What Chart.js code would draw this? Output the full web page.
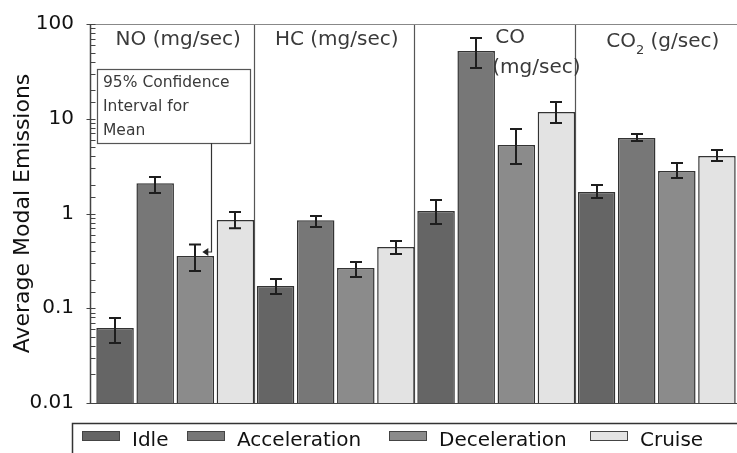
<!DOCTYPE html>
<html>
<head>
<meta charset="utf-8">
<script src="https://cdn.jsdelivr.net/npm/chart.js@4.4.0/dist/chart.umd.min.js"></script>
<style>
  html, body { margin: 0; padding: 0; background: #fff; overflow: hidden; }
</style>
</head>
<body>
<canvas id="emissions" width="737" height="453"></canvas>
<script>
// pollutant groups along the x axis
const pollutants = ["NO", "HC", "CO", "CO2"];
// driving modes (one dataset each)
const modes = ["Idle", "Acceleration", "Deceleration", "Cruise"];
const modeColors = ["#656565", "#777777", "#8b8b8b", "#e3e3e3"];
const yTickLabels = ["0.01", "0.1", "1", "10", "100"];

// average modal emissions per pollutant
const idleMean   = [0.062, 0.172, 1.06, 1.69];
const accelMean  = [2.09, 0.85, 52, 6.26];
const decelMean  = [0.356, 0.266, 5.28, 2.81];
const cruiseMean = [0.853, 0.443, 11.8, 4.05];

// 95% confidence interval bounds
const idleLow   = [0.043, 0.141, 0.775, 1.46];
const idleHigh  = [0.079, 0.204, 1.39, 2.0];
const accelLow  = [1.65, 0.72, 34.3, 5.82];
const accelHigh = [2.43, 0.94, 71, 6.9];
const decelLow  = [0.247, 0.214, 3.33, 2.37];
const decelHigh = [0.47, 0.308, 7.8, 3.41];
const cruiseLow  = [0.70, 0.374, 9.0, 3.58];
const cruiseHigh = [1.04, 0.513, 15.0, 4.69];

const means = [idleMean, accelMean, decelMean, cruiseMean];
const lows = [idleLow, accelLow, decelLow, cruiseLow];
const highs = [idleHigh, accelHigh, decelHigh, cruiseHigh];

const FONT = "'DejaVu Sans', sans-serif";

// separators, axis lines, error bars, group titles, note box and legend
const decorations = {
    id: 'decorations',
    beforeDatasetsDraw(chart) {
        const { ctx, chartArea: a, scales: { x, y } } = chart;
        ctx.save();

        // vertical lines between pollutant groups
        ctx.strokeStyle = '#555';
        ctx.lineWidth = 1.2;
        for (let i = 0; i < pollutants.length - 1; i++) {
            const px = Math.round((x.getPixelForValue(i) + x.getPixelForValue(i + 1)) / 2) - 1.5;
            ctx.beginPath();
            ctx.moveTo(px, a.top);
            ctx.lineTo(px, a.bottom);
            ctx.stroke();
        }

        // frame: left axis, top line, bottom line
        const axisX = a.left - 4.5;
        ctx.strokeStyle = '#444';
        ctx.lineWidth = 1.5;
        ctx.beginPath();
        ctx.moveTo(axisX, a.top);
        ctx.lineTo(axisX, a.bottom);
        ctx.stroke();

        ctx.strokeStyle = '#888';
        ctx.lineWidth = 1.2;
        ctx.beginPath();
        ctx.moveTo(axisX, a.top + 0.5);
        ctx.lineTo(a.right, a.top + 0.5);
        ctx.stroke();

        ctx.strokeStyle = '#444';
        ctx.beginPath();
        ctx.moveTo(axisX, a.bottom + 0.5);
        ctx.lineTo(a.right, a.bottom + 0.5);
        ctx.stroke();

        // log ticks crossing the axis
        ctx.lineWidth = 1;
        ctx.strokeStyle = '#444';
        y.ticks.forEach(t => {
            const py = Math.round(y.getPixelForValue(t.value)) + 0.5;
            const lg = Math.log10(t.value);
            const major = Math.abs(lg - Math.round(lg)) < 1e-6;
            ctx.beginPath();
            ctx.moveTo(axisX - (major ? 4 : 0), py);
            ctx.lineTo(axisX + 5, py);
            ctx.stroke();
        });
        ctx.restore();
    },
    afterDatasetsDraw(chart) {
        const { ctx, scales: { y } } = chart;
        ctx.save();
        ctx.strokeStyle = '#1e1e1e';
        ctx.lineWidth = 2;
        means.forEach((m, d) => {
            const meta = chart.getDatasetMeta(d);
            meta.data.forEach((bar, i) => {
                const cx = Math.round(bar.x);
                const yHi = y.getPixelForValue(highs[d][i]);
                const yLo = y.getPixelForValue(lows[d][i]);
                ctx.beginPath();
                ctx.moveTo(cx, yHi);
                ctx.lineTo(cx, yLo);
                ctx.moveTo(cx - 6, yHi);
                ctx.lineTo(cx + 6, yHi);
                ctx.moveTo(cx - 6, yLo);
                ctx.lineTo(cx + 6, yLo);
                ctx.stroke();
            });
        });
        ctx.restore();
    },
    afterDraw(chart) {
        const { ctx, chartArea: a, scales: { x, y } } = chart;
        ctx.save();

        // group titles
        ctx.fillStyle = '#3a3a3a';
        ctx.font = '20px ' + FONT;
        ctx.textBaseline = 'middle';
        ctx.textAlign = 'center';
        ctx.fillText('NO (mg/sec)', x.getPixelForValue(0) + 3, a.top + 16);
        ctx.fillText('HC (mg/sec)', x.getPixelForValue(1) + 1, a.top + 16);
        ctx.textAlign = 'left';
        ctx.fillText('CO', x.getPixelForValue(2) - 1, a.top + 14);
        ctx.fillText('(mg/sec)', x.getPixelForValue(2) - 4, a.top + 44);

        // CO2 with a subscript 2
        const c4 = x.getPixelForValue(3) + 6;
        const w1 = ctx.measureText('CO').width;
        ctx.font = '13px ' + FONT;
        const w2 = ctx.measureText('2').width;
        ctx.font = '20px ' + FONT;
        const w3 = ctx.measureText(' (g/sec)').width;
        let sx = c4 - (w1 + w2 + w3) / 2;
        ctx.fillText('CO', sx, a.top + 18);
        ctx.font = '13px ' + FONT;
        ctx.fillText('2', sx + w1, a.top + 27);
        ctx.font = '20px ' + FONT;
        ctx.fillText(' (g/sec)', sx + w1 + w2, a.top + 18);

        // note box pointing at the NO deceleration interval
        const bx = a.left + 2, by = a.top + 45, bw = 153, bh = 74;
        ctx.fillStyle = '#fff';
        ctx.fillRect(bx, by, bw, bh);
        ctx.strokeStyle = '#555';
        ctx.lineWidth = 1.2;
        ctx.strokeRect(bx + 0.5, by + 0.5, bw, bh);
        ctx.fillStyle = '#3a3a3a';
        ctx.font = '15.5px ' + FONT;
        ctx.textBaseline = 'middle';
        ctx.fillText('95% Confidence', bx + 6, by + 14);
        ctx.fillText('Interval for', bx + 6, by + 38);
        ctx.fillText('Mean', bx + 6, by + 62);

        const target = chart.getDatasetMeta(2).data[0];
        const tipX = target.x + 7;
        const tipY = y.getPixelForValue(decelMean[0]) - 4;
        const lineX = Math.round(tipX + 9) + 0.5;
        ctx.strokeStyle = '#333';
        ctx.lineWidth = 1.2;
        ctx.beginPath();
        ctx.moveTo(lineX, by + bh);
        ctx.lineTo(lineX, tipY);
        ctx.lineTo(tipX + 4, tipY);
        ctx.stroke();
        ctx.fillStyle = '#222';
        ctx.beginPath();
        ctx.moveTo(tipX, tipY);
        ctx.lineTo(tipX + 6, tipY - 4);
        ctx.lineTo(tipX + 6, tipY + 4);
        ctx.closePath();
        ctx.fill();

        // legend strip
        const ly = 423;
        ctx.strokeStyle = '#333';
        ctx.lineWidth = 1.5;
        ctx.strokeRect(72.5, ly + 0.5, 700, 60);
        const itemX = [82, 187, 389, 590];
        ctx.font = '20px ' + FONT;
        ctx.textBaseline = 'middle';
        chart.data.datasets.forEach((ds, i) => {
            ctx.fillStyle = ds.backgroundColor;
            ctx.fillRect(itemX[i], ly + 8, 37, 9);
            ctx.strokeStyle = '#444';
            ctx.lineWidth = 1;
            ctx.strokeRect(itemX[i] + 0.5, ly + 8.5, 37, 9);
            ctx.fillStyle = '#111';
            ctx.fillText(ds.label, itemX[i] + 50, ly + 18);
        });
        ctx.restore();
    }
};

const datasets = modes.map((mode, i) => ({
    label: mode,
    data: means[i],
    backgroundColor: modeColors[i],
    borderColor: '#333',
    borderWidth: 1.5,
    categoryPercentage: 1.0,
    barPercentage: 0.935
}));

new Chart(document.getElementById('emissions'), {
    type: 'bar',
    data: { labels: pollutants, datasets: datasets },
    options: {
        responsive: false,
        animation: false,
        devicePixelRatio: 1,
        layout: { padding: { top: 24, bottom: 50, left: 0, right: 0 } },
        plugins: { legend: { display: false }, tooltip: { enabled: false } },
        scales: {
            x: { display: false },
            y: {
                type: 'logarithmic',
                min: 0.01,
                max: 100,
                afterFit(scale) {
                    scale.width = 95;
                    // labels may overhang the plot; layout padding handles the room
                    scale.paddingTop = 0;
                    scale.paddingBottom = 0;
                },
                border: { display: false },
                grid: { display: false, drawTicks: false },
                ticks: {
                    autoSkip: false,
                    padding: 21,
                    color: '#111',
                    font: { family: FONT, size: 20 },
                    callback(v) {
                        const lg = Math.log10(v);
                        if (Math.abs(lg - Math.round(lg)) > 1e-6) return '';
                        return yTickLabels[Math.round(lg) + 2];
                    }
                },
                title: {
                    display: true,
                    text: 'Average Modal Emissions',
                    color: '#111',
                    font: { family: FONT, size: 22, lineHeight: 1.2 },
                    padding: { top: 10, bottom: 0 }
                }
            }
        }
    },
    plugins: [decorations]
});
</script>
</body>
</html>
